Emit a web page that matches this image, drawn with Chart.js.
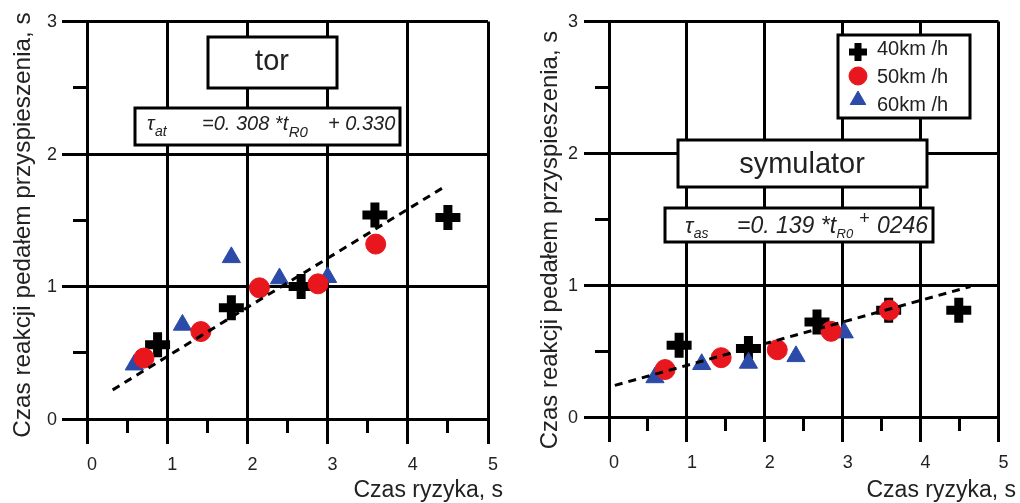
<!DOCTYPE html>
<html><head><meta charset="utf-8">
<script src="https://cdn.jsdelivr.net/npm/chart.js@4/dist/chart.umd.min.js"></script>
<style>
html,body{margin:0;padding:0;background:#fff;overflow:hidden;}
#w{position:relative;width:1020px;height:503px;background:#fff;}
.p{position:absolute;top:0;width:510px;height:503px;}
</style></head><body>
<div id="w">
<div class="p" style="left:0"><canvas id="c1" width="510" height="503"></canvas></div>
<div class="p" style="left:510px"><canvas id="c2" width="510" height="503"></canvas></div>
</div>
<script>
// ---- data ----
const xTicks = [0, 1, 2, 3, 4, 5];
const yTicks = [0, 1, 2, 3];
const seriesNames = ['40km /h', '50km /h', '60km /h'];
const xTitle = 'Czas ryzyka, s';
const yTitle = 'Czas reakcji pedałem przyspieszenia, s';

// panel "tor"
const torX40 = [0.88, 1.80, 2.67, 3.59, 4.50];
const torY40 = [0.56, 0.84, 1.00, 1.54, 1.52];
const torX50 = [0.71, 1.42, 2.15, 2.88, 3.60];
const torY50 = [0.46, 0.66, 0.99, 1.02, 1.32];
const torX60 = [0.59, 1.19, 1.80, 2.40, 3.00];
const torY60 = [0.41, 0.71, 1.22, 1.06, 1.07];
const torFitX = [0.32, 4.45];
const torFitY = [0.22, 1.75];

// panel "symulator"
const symX40 = [0.90, 1.79, 2.67, 3.59, 4.49];
const symY40 = [0.545, 0.52, 0.72, 0.81, 0.81];
const symX50 = [0.72, 1.44, 2.16, 2.85, 3.60];
const symY50 = [0.36, 0.45, 0.51, 0.65, 0.81];
const symX60 = [0.59, 1.19, 1.79, 2.40, 3.02];
const symY60 = [0.30, 0.40, 0.41, 0.46, 0.64];
const symFitX = [0.075, 4.64];
const symFitY = [0.24, 0.99];

// ---- styles ----
const RED = '#e8161d', BLUE = '#2c4ba8', BLACK = '#000';
const FONT = "'Liberation Sans', Arial, sans-serif";

function pts(xs, ys) { return xs.map((x, i) => ({x: x, y: ys[i]})); }
function alignPx(p, w) { return Math.round(p - w / 2) + w / 2; }
function setFont(ctx, size, italic) { ctx.font = (italic ? 'italic ' : '') + size + 'px ' + FONT; }

function drawBox(ctx, x, y, w, h) {
  ctx.save();
  ctx.fillStyle = '#fff';
  ctx.fillRect(x, y, w, h);
  ctx.strokeStyle = BLACK;
  ctx.lineWidth = 3;
  ctx.strokeRect(x, y, w, h);
  ctx.restore();
}

// parts: [text, x or null (follow previous), baseline, size]
function eqText(ctx, parts) {
  ctx.fillStyle = '#222';
  ctx.textAlign = 'left'; ctx.textBaseline = 'alphabetic';
  let cx = 0;
  parts.forEach(p => {
    setFont(ctx, p[3], true);
    const x = (p[1] === null) ? cx + 0.5 : p[1];
    ctx.fillText(p[0], x, p[2]);
    cx = x + ctx.measureText(p[0]).width;
  });
}

function zeroPad(s) { s.paddingTop = 0; s.paddingBottom = 0; s.paddingLeft = 0; s.paddingRight = 0; }

function makeChart(id, d, cfg) {
  const annot = {
    id: 'annot' + id,
    afterDraw(chart) {
      const ctx = chart.ctx, xs = chart.scales.x, ys = chart.scales.y, ca = chart.chartArea;
      ctx.save();
      // tick marks (major & minor)
      ctx.strokeStyle = BLACK; ctx.lineWidth = 3; ctx.lineCap = 'butt';
      xs.ticks.forEach(t => {
        const px = alignPx(xs.getPixelForValue(t.value), 3);
        const len = Number.isInteger(t.value) ? 25 : 14;
        ctx.beginPath(); ctx.moveTo(px, ca.bottom); ctx.lineTo(px, ca.bottom + len); ctx.stroke();
      });
      ys.ticks.forEach(t => {
        const py = alignPx(ys.getPixelForValue(t.value), 3);
        const len = Number.isInteger(t.value) ? 25 : 14;
        ctx.beginPath(); ctx.moveTo(ca.left, py); ctx.lineTo(ca.left - len, py); ctx.stroke();
      });
      // y tick labels
      ctx.fillStyle = '#222';
      setFont(ctx, 18, false);
      ctx.textAlign = 'right'; ctx.textBaseline = 'middle';
      yTicks.forEach(v => ctx.fillText(String(v), ca.left - cfg.yLabGap, ys.getPixelForValue(v) + 1));
      // axis titles
      setFont(ctx, 23, false);
      ctx.textAlign = 'right'; ctx.textBaseline = 'alphabetic';
      ctx.fillText(xTitle, cfg.xTitleRight, 497);
      ctx.save();
      ctx.translate(cfg.yTitleX, cfg.yTitleY);
      ctx.rotate(-Math.PI / 2);
      setFont(ctx, cfg.yTitleSize, false);
      ctx.textAlign = 'center';
      ctx.fillText(yTitle, 0, 0);
      ctx.restore();
      // boxes & text
      cfg.draw(ctx, chart);
      ctx.restore();
    }
  };
  const gridColor = c => (c.tick && Number.isInteger(c.tick.value)) ? BLACK : 'rgba(0,0,0,0)';
  const chart = new Chart(document.getElementById(id), {
    type: 'scatter',
    data: {
      datasets: [
        {label: 'fit', data: pts(d.fitX, d.fitY), showLine: true, borderColor: BLACK, borderWidth: 3,
         borderDash: [8, 6], pointRadius: 0, fill: false, order: 0},
        {label: seriesNames[1], data: pts(d.x50, d.y50), pointStyle: 'circle', pointRadius: 10,
         backgroundColor: RED, borderColor: RED, borderWidth: 1, order: 1},
        {label: seriesNames[2], data: pts(d.x60, d.y60), pointStyle: 'triangle', pointRadius: 10.5,
         backgroundColor: BLUE, borderColor: BLUE, borderWidth: 1, order: 2},
        {label: seriesNames[0], data: pts(d.x40, d.y40), pointStyle: 'cross', pointRadius: 12.5,
         backgroundColor: BLACK, borderColor: BLACK, borderWidth: 9, order: 3}
      ]
    },
    options: {
      responsive: false,
      animation: false,
      devicePixelRatio: 1,
      layout: {padding: {left: 0, top: cfg.area.top, right: 510 - cfg.area.right, bottom: 0}},
      plugins: {legend: {display: false}, tooltip: {enabled: false}},
      scales: {
        x: {
          type: 'linear', min: xTicks[0], max: xTicks[xTicks.length - 1],
          afterFit: s => { s.height = 503 - cfg.area.bottom; zeroPad(s); },
          ticks: {
            stepSize: 0.5, padding: 35, labelOffset: 5, color: '#222', maxRotation: 0, autoSkip: false,
            font: {family: FONT, size: 18},
            callback: v => xTicks.includes(v) ? String(v) : ''
          },
          grid: {drawTicks: false, lineWidth: 3, color: gridColor},
          border: {display: true, color: BLACK, width: 3}
        },
        y: {
          type: 'linear', min: yTicks[0], max: yTicks[yTicks.length - 1],
          afterFit: s => { s.width = cfg.area.left; zeroPad(s); },
          ticks: {stepSize: 0.5, display: false, autoSkip: false},
          grid: {drawTicks: false, lineWidth: 3, color: gridColor},
          border: {display: true, color: BLACK, width: 3}
        }
      }
    },
    plugins: [annot]
  });
  // make the plot area land exactly on the target rectangle
  for (let k = 0; k < 4; k++) {
    const ca = chart.chartArea, p = chart.options.layout.padding, t = cfg.area;
    const dl = t.left - ca.left, dt = t.top - ca.top, dr = ca.right - t.right, db = ca.bottom - t.bottom;
    if (Math.abs(dl) < 0.5 && Math.abs(dt) < 0.5 && Math.abs(dr) < 0.5 && Math.abs(db) < 0.5) break;
    p.left += dl; p.top += dt; p.right += dr; p.bottom += db;
    chart.update();
  }
  return chart;
}

// left panel
makeChart('c1',
  {x40: torX40, y40: torY40, x50: torX50, y50: torY50, x60: torX60, y60: torY60, fitX: torFitX, fitY: torFitY},
  {area: {left: 87, top: 19, right: 488, bottom: 419}, yLabGap: 30,
   xTitleRight: 503, yTitleX: 30, yTitleY: 225, yTitleSize: 24.3,
   draw(ctx) {
     drawBox(ctx, 208, 37, 129, 51);
     ctx.fillStyle = '#222'; setFont(ctx, 29, false);
     ctx.textAlign = 'center'; ctx.textBaseline = 'alphabetic';
     ctx.fillText('tor', 272, 70);
     drawBox(ctx, 135, 108, 265, 37);
     eqText(ctx, [
       ['τ', 147, 130, 20], ['at', null, 136, 14], ['=0. 308 *t', 202, 130, 20],
       ['R0', null, 137, 15], ['+ 0.330', 328, 130, 20]
     ]);
   }});

// right panel
makeChart('c2',
  {x40: symX40, y40: symY40, x50: symX50, y50: symY50, x60: symX60, y60: symY60, fitX: symFitX, fitY: symFitY},
  {area: {left: 99, top: 21, right: 501, bottom: 417}, yLabGap: 31,
   xTitleRight: 506, yTitleX: 47, yTitleY: 240, yTitleSize: 23.9,
   draw(ctx) {
     drawBox(ctx, 328, 35, 132, 83);
     const mk = [
       {pointStyle: 'cross', radius: 9, borderWidth: 7, rotation: 0, c: BLACK, y: 52},
       {pointStyle: 'circle', radius: 9, borderWidth: 1, rotation: 0, c: RED, y: 76},
       {pointStyle: 'triangle', radius: 9, borderWidth: 1, rotation: 0, c: BLUE, y: 100}
     ];
     const baselines = [55, 83, 111];
     mk.forEach((m, i) => {
       ctx.fillStyle = m.c; ctx.strokeStyle = m.c; ctx.lineWidth = m.borderWidth;
       Chart.helpers.drawPoint(ctx, m, 348, m.y);
       ctx.fillStyle = '#222'; setFont(ctx, 20, false);
       ctx.textAlign = 'left'; ctx.textBaseline = 'alphabetic';
       ctx.fillText(seriesNames[i], 367, baselines[i]);
     });
     drawBox(ctx, 168, 140, 249, 47);
     ctx.fillStyle = '#222'; setFont(ctx, 29, false);
     ctx.textAlign = 'center'; ctx.textBaseline = 'alphabetic';
     ctx.fillText('symulator', 292, 173);
     drawBox(ctx, 155, 208, 268, 34);
     eqText(ctx, [
       ['τ', 175, 233, 22], ['as', null, 238, 14], ['=0. 139 *t', 227, 233, 23],
       ['R0', null, 238, 13], ['+', 349, 224, 18], ['0246', 367, 233, 23]
     ]);
   }});
</script>
</body></html>
